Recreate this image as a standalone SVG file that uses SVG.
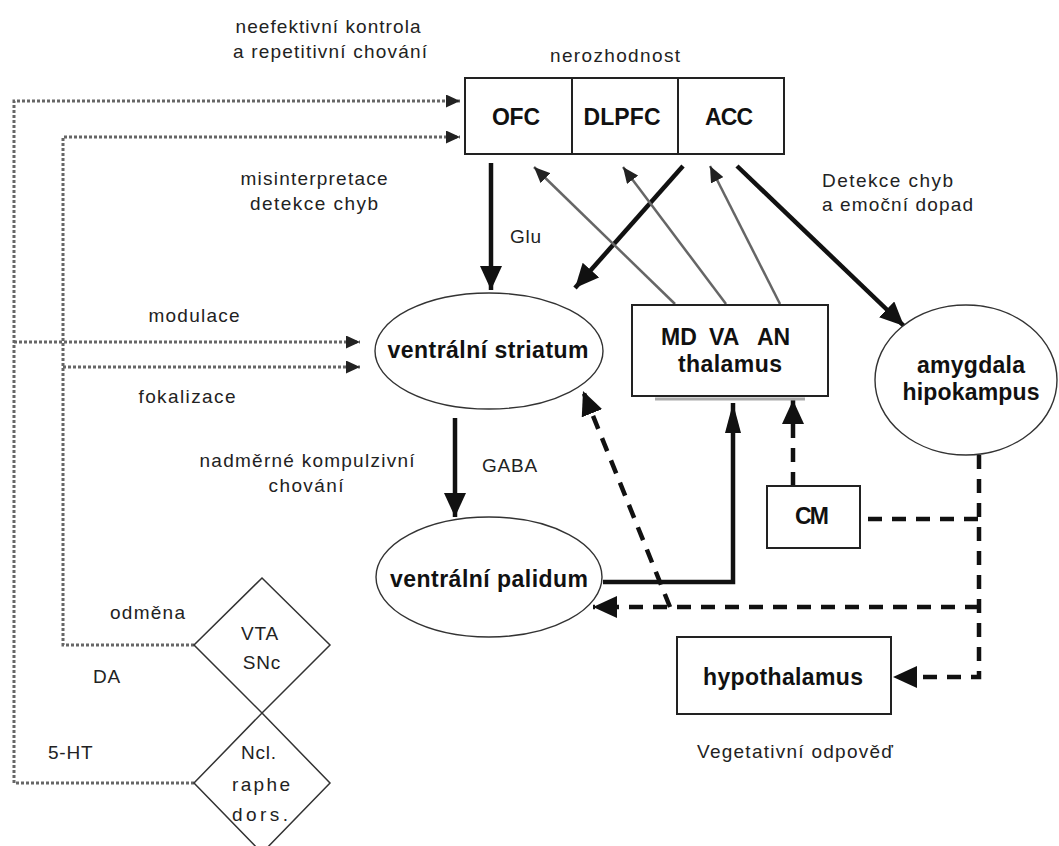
<svg xmlns="http://www.w3.org/2000/svg" width="1059" height="846" viewBox="0 0 1059 846">
<defs>
<style>
.lab{font-family:"Liberation Sans",Arial,sans-serif;font-size:19px;fill:#222;}
.sp{letter-spacing:0.8px;}
.nb{font-family:"Liberation Sans",Arial,sans-serif;font-size:23px;font-weight:bold;fill:#111;}
.box{fill:#fff;stroke:#222;stroke-width:2;}
.ell{fill:#fff;stroke:#333;stroke-width:1.4;}
.thick{fill:none;stroke:#111;stroke-width:4.5;}
.thin{fill:none;stroke:#666;stroke-width:2.5;}
.dash{fill:none;stroke:#111;stroke-width:4.5;stroke-dasharray:14 10;}
.dot{fill:none;stroke:#666;stroke-width:3;stroke-dasharray:3 2;}
</style>
<marker id="big" markerUnits="userSpaceOnUse" markerWidth="24" markerHeight="22" refX="24" refY="11" orient="auto"><path d="M0,0 L24,11 L0,22 z" fill="#111"/></marker>
<marker id="narrow" markerUnits="userSpaceOnUse" markerWidth="30" markerHeight="16" refX="30" refY="8" orient="auto"><path d="M0,0 L30,8 L0,16 z" fill="#111"/></marker>
<marker id="thinh" markerUnits="userSpaceOnUse" markerWidth="16" markerHeight="14" refX="16" refY="7" orient="auto"><path d="M0,0 L16,7 L0,14 z" fill="#222"/></marker>
<marker id="dh" markerUnits="userSpaceOnUse" markerWidth="24" markerHeight="22" refX="24" refY="11" orient="auto"><path d="M0,0 L24,11 L0,22 z" fill="#111"/></marker>
<marker id="doth" markerUnits="userSpaceOnUse" markerWidth="14" markerHeight="13" refX="14" refY="6.5" orient="auto"><path d="M0,0 L14,6.5 L0,13 z" fill="#222"/></marker>
</defs>
<rect width="1059" height="846" fill="#fff"/>

<g id="connectors">
<path class="dot" d="M194,783 H14 V101 H460" marker-end="url(#doth)"/>
<path class="dot" d="M14,342 H360" marker-end="url(#doth)"/>
<path class="dot" d="M194,645 H63 V137 H460" marker-end="url(#doth)"/>
<path class="dot" d="M63,367 H360" marker-end="url(#doth)"/>

<path class="thick" d="M491,163 V290" marker-end="url(#big)"/>
<path class="thick" d="M683,166 L575,288" marker-end="url(#big)"/>
<path class="thick" d="M737,166 L904,326" marker-end="url(#big)"/>
<path class="thick" d="M455,418 V517" marker-end="url(#big)"/>
<path class="thick" d="M603,582 H733 V403" stroke-width="5.5" marker-end="url(#narrow)"/>

<path class="thin" d="M675,304 L534,167" marker-end="url(#thinh)"/>
<path class="thin" d="M726,304 L623,167" marker-end="url(#thinh)"/>
<path class="thin" d="M780,304 L710,166" marker-end="url(#thinh)"/>

<path class="dash" d="M793,486 V400" marker-end="url(#dh)"/>
<path class="dash" d="M868,519 H979"/>
<path class="dash" d="M979,455 V677 H893" marker-end="url(#dh)"/>
<path class="dash" d="M979,607 H593" marker-end="url(#dh)"/>
<path class="dash" d="M670,607 L583,391" marker-end="url(#dh)"/>
</g>

<g id="cortex">
<rect class="box" x="465" y="78" width="319" height="76"/>
<line x1="572" y1="78" x2="572" y2="154" stroke="#222" stroke-width="2"/>
<line x1="678" y1="78" x2="678" y2="154" stroke="#222" stroke-width="2"/>
<text class="nb" x="516" y="125" text-anchor="middle" textLength="48">OFC</text>
<text class="nb" x="622" y="125" text-anchor="middle" textLength="77">DLPFC</text>
<text class="nb" x="729" y="125" text-anchor="middle" textLength="48">ACC</text>
</g>

<g id="striatum">
<ellipse class="ell" cx="489" cy="351" rx="114" ry="58"/>
<text class="nb" x="488" y="358" text-anchor="middle" textLength="201">ventrální striatum</text>
</g>

<g id="palidum">
<ellipse class="ell" cx="489" cy="577" rx="113" ry="60"/>
<text class="nb" x="489" y="587" text-anchor="middle" textLength="198">ventrální palidum</text>
</g>

<g id="thalamus">
<line x1="655" y1="399" x2="805" y2="399" stroke="#aaa" stroke-width="3"/>
<rect class="box" x="632" y="305" width="196" height="91"/>
<text class="nb" y="345"><tspan x="661">MD</tspan><tspan x="709">VA</tspan><tspan x="757">AN</tspan></text>
<text class="nb" x="730" y="372" text-anchor="middle" textLength="104">thalamus</text>
</g>

<g id="amygdala">
<ellipse class="ell" cx="966" cy="380" rx="91" ry="75"/>
<text class="nb" x="971" y="373" text-anchor="middle" textLength="108">amygdala</text>
<text class="nb" x="971" y="400" text-anchor="middle" textLength="137">hipokampus</text>
</g>

<g id="cm">
<rect class="box" x="767" y="486" width="93" height="62"/>
<text class="nb" x="812" y="524" text-anchor="middle" textLength="34">CM</text>
</g>

<g id="hypothalamus">
<rect class="box" x="677" y="637" width="214" height="77"/>
<text class="nb" x="783" y="685" text-anchor="middle" textLength="160">hypothalamus</text>
</g>

<g id="vta">
<polygon points="262,578 330,645 262,713 194,645" fill="#fff" stroke="#333" stroke-width="1.5"/>
<text class="lab sp" x="260" y="640" text-anchor="middle">VTA</text>
<text class="lab sp" x="262" y="669" text-anchor="middle">SNc</text>
</g>

<g id="raphe">
<polygon points="262,713 330,783 262,853 194,783" fill="#fff" stroke="#333" stroke-width="1.5"/>
<text class="lab sp" x="259" y="759" text-anchor="middle">Ncl.</text>
<text class="lab" x="261" y="791" text-anchor="middle" textLength="58">raphe</text>
<text class="lab" x="260" y="821" text-anchor="middle" textLength="56">dors.</text>
</g>

<g id="labels">
<text class="lab" x="328" y="33" text-anchor="middle" textLength="185">neefektivní kontrola</text>
<text class="lab" x="330" y="58" text-anchor="middle" textLength="194">a repetitivní chování</text>
<text class="lab" x="615" y="62" text-anchor="middle" textLength="130">nerozhodnost</text>
<text class="lab" x="314" y="185" text-anchor="middle" textLength="147">misinterpretace</text>
<text class="lab" x="314" y="210" text-anchor="middle" textLength="128">detekce chyb</text>
<text class="lab sp" x="510" y="243">Glu</text>
<text class="lab" x="822" y="187" textLength="131">Detekce chyb</text>
<text class="lab" x="822" y="211" textLength="151">a emoční dopad</text>
<text class="lab" x="194" y="322" text-anchor="middle" textLength="91">modulace</text>
<text class="lab" x="187" y="403" text-anchor="middle" textLength="97">fokalizace</text>
<text class="lab" x="307" y="467" text-anchor="middle" textLength="215">nadměrné kompulzivní</text>
<text class="lab" x="306" y="492" text-anchor="middle" textLength="75">chování</text>
<text class="lab sp" x="482" y="472">GABA</text>
<text class="lab" x="110" y="619" textLength="75">odměna</text>
<text class="lab sp" x="93" y="683">DA</text>
<text class="lab sp" x="48" y="759">5-HT</text>
<text class="lab" x="795" y="758" text-anchor="middle" textLength="196">Vegetativní odpověď</text>
</g>
</svg>
